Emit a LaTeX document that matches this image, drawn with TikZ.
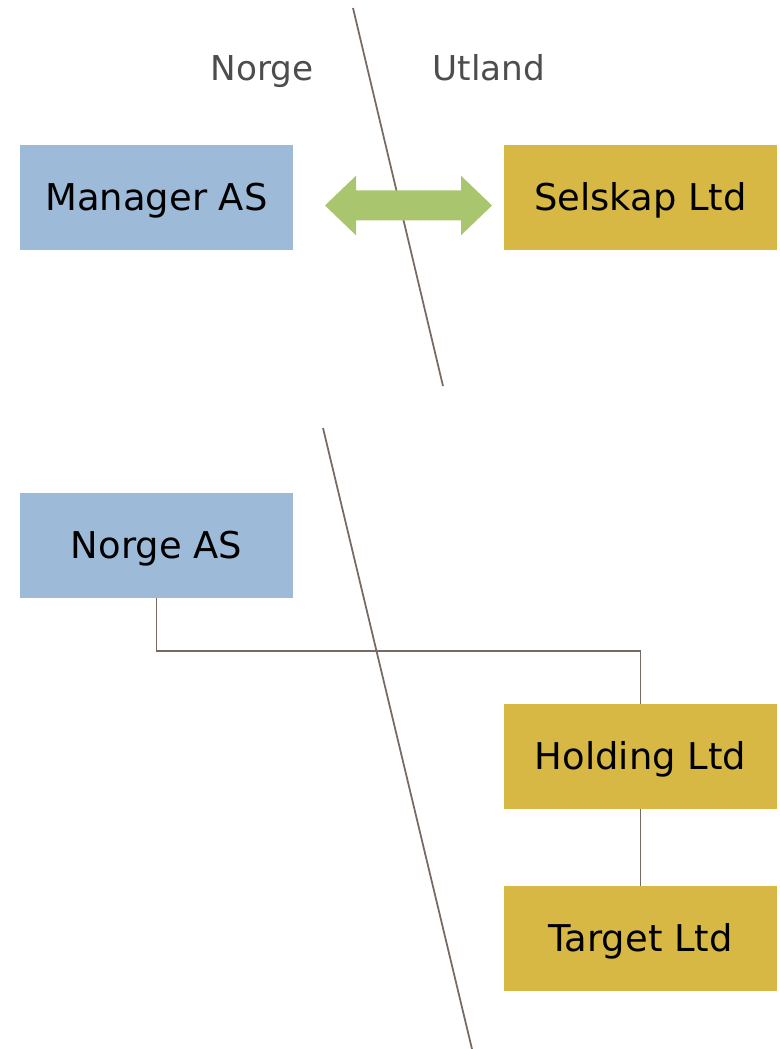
\documentclass[tikz,border=0pt]{standalone}
\usepackage{fontspec}
\setmainfont{DejaVu Sans}
\definecolor{normblue}{RGB}{157,186,217}
\definecolor{utgold}{RGB}{215,184,68}
\definecolor{arrowgreen}{RGB}{169,198,111}
\definecolor{linegray}{RGB}{118,106,98}
\definecolor{labelgray}{RGB}{77,77,77}

\begin{document}
\begin{tikzpicture}[x=0.02cm, y=-0.02cm,
  company/.style={minimum width=5.46cm, minimum height=2.1cm, inner sep=0pt, text height=15.3pt, text depth=0pt, font=\fontsize{21}{25}\selectfont},
  norsk/.style={company, fill=normblue},
  utenlandsk/.style={company, fill=utgold},
  side/.style={anchor=base, text=labelgray, font=\fontsize{19.5}{23}\selectfont},
  border/.style={draw=linegray, line width=1pt},
  owner/.style={draw=linegray, line width=1pt}]
\useasboundingbox (0,0) rectangle (779,1049);
% labels
\node[side] (LNorge) at (262,80) {Norge};
\node[side] (LUtland) at (489,80) {Utland};
% border lines
\coordinate (B1top) at (353,8);
\coordinate (B1bot) at (443,386);
\coordinate (B2top) at (323,428);
\coordinate (B2bot) at (472,1049);
\draw[border] (B1top) -- (B1bot);
\draw[border] (B2top) -- (B2bot);
% upper part
\node[norsk] (Manager) at (156.5,197.5) {Manager AS};
\node[utenlandsk] (Selskap) at (640.5,197.5) {Selskap Ltd};
\fill[arrowgreen] (325,205.5) -- (356,175.7) -- (356,190.3) -- (461,190.3) -- (461,175.7) -- (492,205.5)
  -- (461,235.3) -- (461,220.3) -- (356,220.3) -- (356,235.3) -- cycle;
% lower part
\node[norsk] (NorgeAS) at (156.5,545.5) {Norge AS};
\node[utenlandsk] (Holding) at (640.5,756.5) {Holding Ltd};
\node[utenlandsk] (Target) at (640.5,938.5) {Target Ltd};
\draw[owner] (NorgeAS.south) -- ++(0,53) -| (Holding.north);
\draw[owner] (Holding.south) -- (Target.north);
\end{tikzpicture}
\end{document}
